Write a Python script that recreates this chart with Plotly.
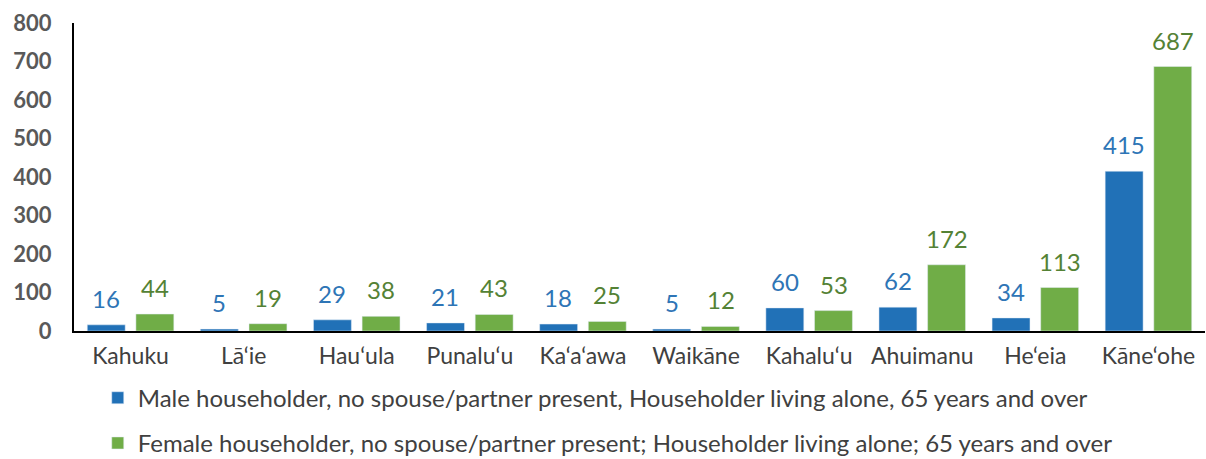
import plotly.graph_objects as go

categories = ["Kahuku", "Lā‘ie", "Hau‘ula", "Punalu‘u", "Ka‘a‘awa", "Waikāne",
              "Kahalu‘u", "Ahuimanu", "He‘eia", "Kāne‘ohe"]
male = [16, 5, 29, 21, 18, 5, 60, 62, 34, 415]
female = [44, 19, 38, 43, 25, 12, 53, 172, 113, 687]
male_name = "Male householder, no spouse/partner present, Householder living alone, 65 years and over"
female_name = "Female householder, no spouse/partner present; Householder living alone; 65 years and over"
yticks = [0, 100, 200, 300, 400, 500, 600, 700, 800]

BLUE = "#2171B7"
GREEN = "#70AD47"
BLUE_TXT = "#2E75B6"
GREEN_TXT = "#548235"
FONT = "Lato"

fig = go.Figure()
fig.add_trace(go.Bar(x=categories, y=male, name=male_name, marker_color=BLUE,
                     legendgroup="m"))
fig.add_trace(go.Bar(x=categories, y=female, name=female_name, marker_color=GREEN,
                     legendgroup="f"))

annotations = []
for c, v in zip(categories, male):
    annotations.append(dict(x=c, y=v, xref="x", yref="y", text=str(v), showarrow=False,
                            xshift=-24.5, yanchor="bottom", yshift=10,
                            font=dict(family=FONT, size=24, color=BLUE_TXT)))
for c, v in zip(categories, female):
    annotations.append(dict(x=c, y=v, xref="x", yref="y", text=str(v), showarrow=False,
                            xshift=24.5, yanchor="bottom", yshift=10,
                            font=dict(family=FONT, size=24, color=GREEN_TXT)))

fig.update_layout(
    width=1206, height=459,
    margin=dict(l=74, r=1, t=23, b=128, autoexpand=False),
    plot_bgcolor="white", paper_bgcolor="white",
    barmode="group", bargap=0.14, bargroupgap=0.22,
    font=dict(family=FONT, color="#404040"),
    annotations=annotations,
    showlegend=True,
    legend=dict(orientation="v", x=0.021, xanchor="left", y=-0.145, yanchor="top",
                font=dict(family=FONT, size=24, color="#404040"),
                tracegroupgap=11, bgcolor="rgba(0,0,0,0)"),
    xaxis=dict(showline=True, linecolor="#000000", linewidth=2, ticks="",
               tickfont=dict(family=FONT, size=23, color="#404040"),
               showgrid=False, ticklabelstandoff=3, automargin=False),
    yaxis=dict(range=[0, 800], tickvals=yticks, showgrid=False, zeroline=False,
               showline=True, linecolor="#000000", linewidth=2, ticks="",
               tickfont=dict(family=FONT, size=22, color="#595959", weight="bold"),
               ticklabelstandoff=16, automargin=False),
)

fig.write_html("out.html", config={"displayModeBar": False},
               post_script="document.body.style.margin='0';document.body.style.overflow='hidden';")
